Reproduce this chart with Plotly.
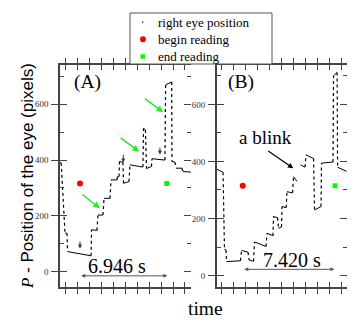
import plotly.graph_objects as go

# panel A: fixations (start/end time in tick units, eye position at start/end)
a_t0 = [0.0, 0.42, 0.63, 2.65, 3.19, 3.70, 4.29, 4.83, 5.00, 5.34, 5.88, 7.02, 7.27, 7.73, 8.88, 9.41, 9.75, 10.34]
a_t1 = [0.10, 0.59, 2.61, 3.11, 3.61, 4.20, 4.79, 4.96, 5.29, 5.80, 6.97, 7.18, 7.69, 8.82, 9.39, 9.66, 10.25, 11.0]
a_p0 = [390, 138, 72, 150, 203, 263, 329, 341, 395, 317, 383, 514, 370, 405, 670, 395, 371, 359]
a_p1 = [390, 138, 57, 148, 203, 263, 329, 341, 392, 323, 375, 508, 377, 400, 680, 393, 371, 357]
a_begin_t, a_begin_p = [1.68], [316]
a_end_t, a_end_p = [8.97], [316]

# panel B
b_t0 = [0.0, 0.65, 0.82, 2.07, 2.69, 3.15, 4.19, 4.73, 5.15, 5.44, 5.86, 6.40, 6.98, 7.44, 8.15, 8.73, 9.73, 10.07]
b_t1 = [0.53, 0.78, 1.98, 2.61, 3.07, 4.11, 4.69, 5.07, 5.40, 5.78, 6.32, 6.69, 7.36, 8.07, 8.69, 9.69, 10.03, 10.83]
b_p0 = [373, 92, 49, 88, 55, 118, 148, 207, 166, 242, 294, 347, 388, 423, 230, 394, 700, 380]
b_p1 = [362, 90, 52, 82, 50, 102, 140, 203, 170, 238, 290, 330, 380, 410, 242, 398, 712, 365]
b_blink = [11]  # no samples after this fixation (eye closed)
b_begin_t, b_begin_p = [2.17], [315]
b_end_t, b_end_p = [9.86], [315]

SERIF = "Liberation Serif"
AX = "#444"


def steps(t0, t1, p0, p1, gaps=()):
    fx, fy, sx, sy = [], [], [], []
    for i in range(len(t0)):
        fx += [t0[i], t1[i], None]
        fy += [p0[i], p1[i], None]
        if i + 1 < len(t0) and i not in gaps:
            sx += [t1[i], t0[i + 1], None]
            sy += [p1[i], p0[i + 1], None]
    return fx, fy, sx, sy


fig = go.Figure()

for t0, t1, p0, p1, gaps, bt, bp, et, ep, xa, ya in [
    (a_t0, a_t1, a_p0, a_p1, [], a_begin_t, a_begin_p, a_end_t, a_end_p, "x", "y"),
    (b_t0, b_t1, b_p0, b_p1, b_blink, b_begin_t, b_begin_p, b_end_t, b_end_p, "x2", "y2"),
]:
    fx, fy, sx, sy = steps(t0, t1, p0, p1, gaps)
    fig.add_trace(go.Scatter(x=sx, y=sy, mode="lines", xaxis=xa, yaxis=ya,
                             line=dict(color="black", width=1.2, dash="dot"), showlegend=False))
    fig.add_trace(go.Scatter(x=fx, y=fy, mode="lines", xaxis=xa, yaxis=ya,
                             line=dict(color="black", width=1), showlegend=False))
    fig.add_trace(go.Scatter(x=bt, y=bp, mode="markers", xaxis=xa, yaxis=ya,
                             marker=dict(color="red", size=6), showlegend=False))
    fig.add_trace(go.Scatter(x=et, y=ep, mode="markers", xaxis=xa, yaxis=ya,
                             marker=dict(color="#00ff00", size=5, symbol="square"), showlegend=False))

# empty traces so the overlay tick axes get drawn
fig.add_trace(go.Scatter(x=[], y=[], xaxis="x", yaxis="y3", showlegend=False))
fig.add_trace(go.Scatter(x=[], y=[], xaxis="x2", yaxis="y4", showlegend=False))

ydom = [0.1407, 0.8054]
xcommon = dict(showline=True, linecolor=AX, linewidth=1.5, mirror="allticks", ticks="inside",
               ticklen=5, tickcolor=AX, dtick=1, showticklabels=False, showgrid=False,
               zeroline=False, fixedrange=True)
ycommon = dict(showline=True, linecolor=AX, linewidth=1.5, ticks="outside", ticklen=7,
               tickcolor=AX, dtick=200, tickfont=dict(family=SERIF, size=9, color="#333"),
               showgrid=False, zeroline=False, ticklabelstandoff=1)
yover = dict(showline=False, ticks="inside", ticklen=7, tickcolor=AX, dtick=200,
             showticklabels=False, showgrid=False, zeroline=False, mirror="allticks",
             minor=dict(dtick=100, ticks="inside", ticklen=4, tickcolor=AX))

fig.update_layout(
    width=354, height=334, margin=dict(l=0, r=0, t=0, b=0),
    paper_bgcolor="white", plot_bgcolor="white", showlegend=False,
    xaxis=dict(domain=[0.1695, 0.5395], range=[0, 11.01], tick0=0.5, anchor="y", **xcommon),
    xaxis2=dict(domain=[0.6121, 0.9794], range=[0, 10.83], tick0=0.42, anchor="y2", **xcommon),
    yaxis=dict(domain=ydom, range=[-55, 741], anchor="x", **ycommon),
    yaxis2=dict(domain=ydom, range=[-40, 738], anchor="x2", **ycommon),
    yaxis3=dict(domain=ydom, range=[-55, 741], anchor="x", overlaying="y", **yover),
    yaxis4=dict(domain=ydom, range=[-40, 738], anchor="x2", overlaying="y2", **yover),
)

ann = []
# panel labels
ann.append(dict(x=2.27, y=681, xref="x", yref="y", text="(A)", showarrow=False,
                font=dict(family=SERIF, size=19.5, color="black")))
ann.append(dict(x=2.03, y=680, xref="x2", yref="y2", text="(B)", showarrow=False,
                font=dict(family=SERIF, size=19.5, color="black")))

# black down arrows (A)
for x, y0, y1 in [(1.68, 113, 83), (5.32, 425, 391), (8.40, 450, 420)]:
    ann.append(dict(x=x, y=y1, ax=x, ay=y0, xref="x", yref="y", axref="x", ayref="y",
                    text="", showarrow=True, arrowhead=2, arrowsize=0.8, arrowwidth=1,
                    arrowcolor="#333"))
# green arrows (A)
for x0, y0, x1, y1 in [(1.76, 281, 3.36, 227), (4.98, 484, 6.66, 430), (7.0, 624, 8.68, 572)]:
    ann.append(dict(x=x1, y=y1, ax=x0, ay=y0, xref="x", yref="y", axref="x", ayref="y",
                    text="", showarrow=True, arrowhead=2, arrowsize=0.9, arrowwidth=1.5,
                    arrowcolor="#22ee22"))

# duration arrows
ann.append(dict(x=9.02, y=-15, ax=1.66, ay=-15, xref="x", yref="y", axref="x", ayref="y",
                text="", showarrow=True, arrowhead=2, arrowside="end+start", arrowsize=0.8,
                arrowwidth=1, arrowcolor="#555"))
ann.append(dict(x=4.76, y=20, xref="x", yref="y", text="6.946 s", showarrow=False,
                font=dict(family=SERIF, size=20, color="black")))
ann.append(dict(x=9.80, y=22, ax=2.17, ay=22, xref="x2", yref="y2", axref="x2", ayref="y2",
                text="", showarrow=True, arrowhead=2, arrowside="end+start", arrowsize=0.8,
                arrowwidth=1, arrowcolor="#555"))
ann.append(dict(x=6.25, y=55, xref="x2", yref="y2", text="7.420 s", showarrow=False,
                font=dict(family=SERIF, size=20, color="black")))

# blink
ann.append(dict(x=4.03, y=484, xref="x2", yref="y2", text="a blink", showarrow=False,
                font=dict(family=SERIF, size=19, color="black")))
ann.append(dict(x=6.38, y=376, ax=4.17, ay=440, xref="x2", yref="y2", axref="x2", ayref="y2",
                text="", showarrow=True, arrowhead=2, arrowsize=0.9, arrowwidth=1.2,
                arrowcolor="black"))

# axis titles
ann.append(dict(x=27 / 354, y=1 - 176 / 334, xref="paper", yref="paper", textangle=-90, showarrow=False,
                xanchor="center", yanchor="middle",
                text='<span style="font-family:Liberation Serif"><i>P</i></span> - Position of the eye (pixels)',
                font=dict(family="Liberation Sans", size=17, color="black")))
ann.append(dict(x=205 / 354, y=1 - 308 / 334, xref="paper", yref="paper", text="time",
                xanchor="center", yanchor="middle",
                showarrow=False, font=dict(family=SERIF, size=19.5, color="black")))

# legend (drawn by hand to keep the tight row spacing)
leg_rows = [("right eye position", 22.2), ("begin reading", 39.3), ("end reading", 56.4)]
for label, ypx in leg_rows:
    ann.append(dict(x=157 / 354, y=1 - ypx / 334, xref="paper", yref="paper", text=label,
                    xanchor="left", yanchor="middle", showarrow=False, borderpad=0,
                    font=dict(family=SERIF, size=13, color="black")))
fig.update_layout(annotations=ann)


def px_box(x0, y0, x1, y1):
    return dict(xref="paper", yref="paper", x0=x0 / 354, x1=x1 / 354, y0=1 - y1 / 334, y1=1 - y0 / 334)


fig.add_shape(type="rect", line=dict(color="#555", width=1), fillcolor="white", **px_box(130, 13, 272, 64))
fig.add_shape(type="circle", line=dict(width=0), fillcolor="black", **px_box(142, 21.5, 143.4, 22.9))
fig.add_shape(type="circle", line=dict(width=0), fillcolor="red", **px_box(140, 36.3, 146, 42.3))
fig.add_shape(type="rect", line=dict(width=0), fillcolor="#00ff00", **px_box(140.5, 54.2, 145, 58.7))

fig.write_html("out.html", config={"displayModeBar": False},
               post_script="document.body.style.margin='0';")
